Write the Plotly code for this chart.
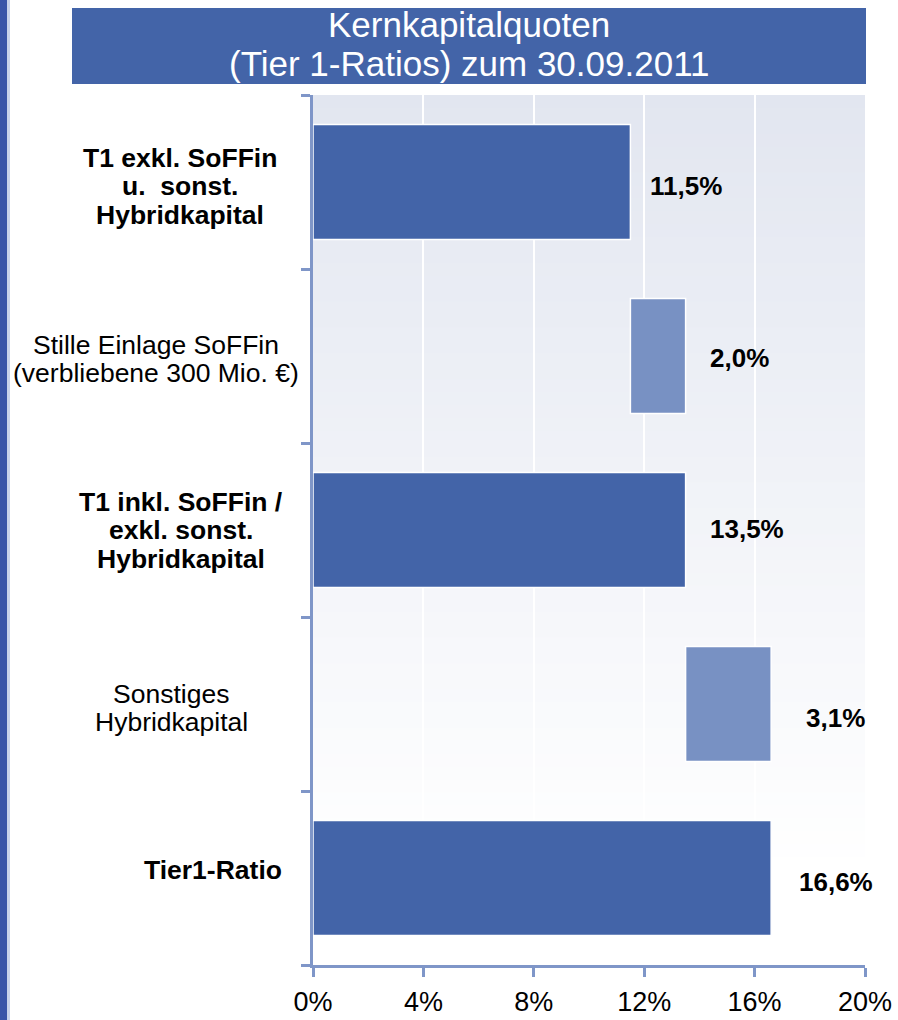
import plotly.graph_objects as go

# ---------------- data ----------------
categories = [
    "T1 exkl. SoFFin<br>u.  sonst.<br>Hybridkapital",
    "Stille Einlage SoFFin<br>(verbliebene 300 Mio. €)",
    "T1 inkl. SoFFin /<br>exkl. sonst.<br>Hybridkapital",
    "Sonstiges<br>Hybridkapital",
    "Tier1-Ratio",
]
bases = [0.0, 11.5, 0.0, 13.5, 0.0]
values = [11.5, 2.0, 13.5, 3.1, 16.6]
value_labels = ["11,5%", "2,0%", "13,5%", "3,1%", "16,6%"]
bold_category = [True, False, True, False, True]
x_ticks = [0, 4, 8, 12, 16, 20]
x_tick_labels = ["0%", "4%", "8%", "12%", "16%", "20%"]
title_lines = ["Kernkapitalquoten", "(Tier 1-Ratios) zum 30.09.2011"]

# ---------------- style ----------------
W, H = 898, 1020
ML, MR, MT, MB = 313, 33, 95, 55
PW, PH = W - ML - MR, H - MT - MB
DARK = "#4364a8"
LIGHT = "#7891c3"
AXIS = "#7f96c8"
FONT = "Liberation Sans, Arial, sans-serif"
bar_colors = [DARK, LIGHT, DARK, LIGHT, DARK]
cat_label_x = [180, 156, 181, 171, 213]      # pixel centers of category labels
cat_label_dy = [-4, -3, 0, -4, 8]
cat_line_h = 28.5
label_xshift = [18, 22, 22, 33, 26]
label_yshift = [-4, -2, 1, -14, -4]


def px_x(p):
    return (p - ML) / PW


def px_y(p):
    return 1 - (p - MT) / PH


ypos = list(range(len(categories)))

fig = go.Figure()
fig.add_trace(go.Bar(
    y=ypos, x=values, base=bases, orientation="h", width=0.66,
    marker=dict(color=bar_colors, line=dict(color="white", width=1.5)),
    hoverinfo="skip", showlegend=False,
))

shapes = []
# gradient plot background (top light blue-grey -> white)
n = 60
top = (226, 230, 240)
grad_end = 870
for i in range(n):
    p0 = MT + (grad_end - MT) * i / n
    p1 = MT + (grad_end - MT) * (i + 1) / n
    t = (i + 0.5) / n
    c = tuple(round(top[k] + (255 - top[k]) * t) for k in range(3))
    shapes.append(dict(type="rect", xref="x domain", yref="y domain",
                       x0=0, x1=1, y0=1 - (p1 - MT) / PH - 0.001, y1=1 - (p0 - MT) / PH,
                       fillcolor="rgb(%d,%d,%d)" % c, line=dict(width=0), layer="below"))
# left blue strip
shapes.append(dict(type="rect", xref="paper", yref="paper", x0=px_x(0), x1=px_x(7),
                   y0=px_y(H), y1=px_y(0), fillcolor="#3a55a8", line=dict(width=0)))
shapes.append(dict(type="rect", xref="paper", yref="paper", x0=px_x(7), x1=px_x(10),
                   y0=px_y(H), y1=px_y(0), fillcolor="#c9d3ea", line=dict(width=0)))
# title box
shapes.append(dict(type="rect", xref="paper", yref="paper", x0=px_x(72), x1=px_x(866),
                   y0=px_y(84), y1=px_y(8), fillcolor=DARK, line=dict(width=0)))

annotations = []
title_y = [25, 63]
for line, yy in zip(title_lines, title_y):
    annotations.append(dict(text=line, xref="paper", yref="paper", x=px_x(469), y=px_y(yy),
                            xanchor="center", yanchor="middle", showarrow=False,
                            font=dict(family=FONT, size=35, color="white")))

for i, cat in enumerate(categories):
    lines = cat.split("<br>")
    nl = len(lines)
    for j, line in enumerate(lines):
        txt = "<b>%s</b>" % line if bold_category[i] else line
        annotations.append(dict(text=txt, xref="paper", yref="y", x=px_x(cat_label_x[i]), y=i,
                                xanchor="center", yanchor="middle", showarrow=False,
                                yshift=((nl - 1) / 2 - j) * cat_line_h + cat_label_dy[i],
                                font=dict(family=FONT, size=26.5, color="black")))

for i in range(len(values)):
    annotations.append(dict(text="<b>%s</b>" % value_labels[i], xref="x", yref="y",
                            x=bases[i] + values[i], y=i, xanchor="left", yanchor="middle",
                            xshift=label_xshift[i], yshift=label_yshift[i], showarrow=False,
                            font=dict(family=FONT, size=26, color="black")))

fig.update_layout(
    width=W, height=H,
    margin=dict(l=ML, r=MR, t=MT, b=MB, autoexpand=False),
    paper_bgcolor="white", plot_bgcolor="rgba(0,0,0,0)",
    shapes=shapes, annotations=annotations,
    xaxis=dict(range=[0, 20], tickvals=x_ticks, ticktext=x_tick_labels, automargin=False,
               showgrid=True, gridcolor="white", gridwidth=2, zeroline=False,
               showline=True, linecolor=AXIS, linewidth=3,
               ticks="outside", ticklen=9, tickwidth=3, tickcolor=AXIS,
               ticklabelstandoff=2,
               tickfont=dict(family=FONT, size=27, color="black"), fixedrange=True),
    yaxis=dict(range=[4.5, -0.5], tickvals=[-0.5, 0.5, 1.5, 2.5, 3.5, 4.5], automargin=False,
               ticktext=[""] * 6, showgrid=False, zeroline=False,
               showline=True, linecolor=AXIS, linewidth=3,
               ticks="outside", ticklen=9, tickwidth=3, tickcolor=AXIS, fixedrange=True),
)

fig.write_html("out.html", config={"displayModeBar": False},
               post_script="document.body.style.margin='0px';document.body.style.overflow='hidden';")
